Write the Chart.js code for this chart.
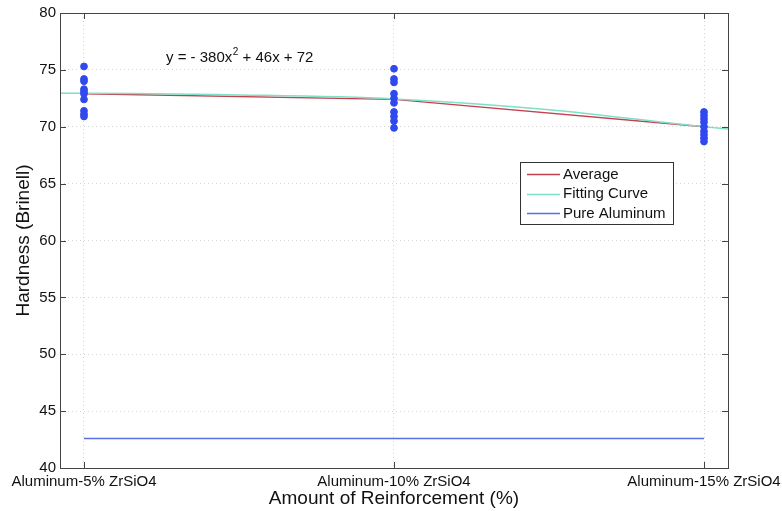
<!DOCTYPE html>
<html>
<head>
<meta charset="utf-8">
<script src="https://cdn.jsdelivr.net/npm/chart.js@4.4.1/dist/chart.umd.min.js"></script>
<style>
html,body{margin:0;padding:0;background:#fff;}
#wrap{width:782px;height:511px;}
</style>
</head>
<body>
<div id="wrap"><canvas id="c" width="782" height="511"></canvas></div>
<script>
// Category positions (% reinforcement) and labels
const categories = [5, 10, 15];
const categoryLabels = ['Aluminum-5% ZrSiO4', 'Aluminum-10% ZrSiO4', 'Aluminum-15% ZrSiO4'];
const yTicks = [40, 45, 50, 55, 60, 65, 70, 75, 80];

const samples5 = [75.3, 74.2, 74.0, 73.3, 73.1, 72.9, 72.4, 71.4, 71.1, 70.9];
const samples10 = [75.1, 74.2, 73.9, 72.9, 72.5, 72.1, 71.3, 70.9, 70.5, 69.9];
const samples15 = [71.3, 71.0, 70.7, 70.4, 70.0, 69.6, 69.3, 69.0, 68.7];

// Average line
const averageValues = [72.9, 72.4, 70.0];

// Fitting curve, read at several x positions
const fitX = [4.61, 5, 7.5, 10, 12.5, 15, 15.39];
const fitY = [72.95, 72.95, 72.8, 72.45, 71.5, 70.0, 69.8];

// Pure aluminum reference
const pureX = [5, 15];
const pureY = [42.6, 42.6];

const equationText = ['y = - 380x', '2', ' + 46x + 72'];

const pts = [];
[samples5, samples10, samples15].forEach((arr, i) => arr.forEach(v => pts.push({x: categories[i], y: v})));

const FONT = '"Liberation Sans", Arial, sans-serif';

const data = {
  datasets: [
    {label: 'Samples', type: 'scatter', data: pts, backgroundColor: '#3049ee', borderColor: '#3049ee',
     pointRadius: 3.4, pointHoverRadius: 3.4, showLine: false, legendHide: true, order: 0},
    {label: 'Average', data: categories.map((c, i) => ({x: c, y: averageValues[i]})),
     borderColor: '#c4414f', borderWidth: 1.3, pointRadius: 0, showLine: true, tension: 0, order: 2},
    {label: 'Fitting Curve', data: fitX.map((x, i) => ({x: x, y: fitY[i]})),
     borderColor: '#7fe0c8', borderWidth: 1.5, pointRadius: 0, showLine: true, cubicInterpolationMode: 'monotone', order: 1},
    {label: 'Pure Aluminum', data: pureX.map((x, i) => ({x: x, y: pureY[i]})),
     borderColor: '#5a6ee6', borderWidth: 1.5, pointRadius: 0, showLine: true, order: 3}
  ]
};

const framePlugin = {
  id: 'frame',
  afterDraw(chart) {
    const ctx = chart.ctx, a = chart.chartArea;
    const xs = chart.scales.x, ys = chart.scales.y;
    ctx.save();
    ctx.strokeStyle = '#444';
    ctx.lineWidth = 1;
    ctx.strokeRect(Math.round(a.left) + 0.5, Math.round(a.top) + 0.5, Math.round(a.right - a.left), Math.round(a.bottom - a.top));
    ctx.beginPath();
    const tl = 6;
    yTicks.forEach(v => {
      const y = Math.round(ys.getPixelForValue(v)) + 0.5;
      ctx.moveTo(a.left, y); ctx.lineTo(a.left + tl, y);
      ctx.moveTo(a.right, y); ctx.lineTo(a.right - tl, y);
    });
    categories.forEach(v => {
      const x = Math.round(xs.getPixelForValue(v)) + 0.5;
      ctx.moveTo(x, a.top); ctx.lineTo(x, a.top + tl);
      ctx.moveTo(x, a.bottom); ctx.lineTo(x, a.bottom - tl);
    });
    ctx.stroke();

    // Equation text
    ctx.fillStyle = '#111';
    ctx.font = '15px ' + FONT;
    ctx.textBaseline = 'alphabetic';
    let ex = 166, ey = 62;
    ctx.fillText(equationText[0], ex, ey);
    ex += ctx.measureText(equationText[0]).width;
    ctx.font = '10px ' + FONT;
    ctx.fillText(equationText[1], ex + 0.5, ey - 7);
    ex += ctx.measureText(equationText[1]).width + 0.5;
    ctx.font = '15px ' + FONT;
    ctx.fillText(equationText[2], ex, ey);

    // Legend
    const lx = 520, ly = 162, lw = 153, lh = 62;
    ctx.fillStyle = '#fff';
    ctx.fillRect(lx, ly, lw, lh);
    ctx.strokeStyle = '#333';
    ctx.strokeRect(lx + 0.5, ly + 0.5, lw, lh);
    const entries = chart.data.datasets.filter(d => !d.legendHide);
    ctx.font = '15px ' + FONT;
    ctx.textBaseline = 'middle';
    entries.forEach((d, i) => {
      const y = ly + 12 + i * 19.5;
      ctx.strokeStyle = d.borderColor;
      ctx.lineWidth = 1.5;
      ctx.beginPath();
      ctx.moveTo(lx + 7, Math.round(y) + 0.5);
      ctx.lineTo(lx + 40, Math.round(y) + 0.5);
      ctx.stroke();
      ctx.fillStyle = '#111';
      ctx.fillText(d.label, lx + 43, y + 0.5);
    });
    ctx.restore();
  }
};

new Chart(document.getElementById('c'), {
  type: 'scatter',
  data: data,
  plugins: [framePlugin],
  options: {
    responsive: false,
    animation: false,
    layout: {padding: {left: 0, right: 54, top: 13, bottom: 0}},
    plugins: {legend: {display: false}, tooltip: {enabled: false}},
    scales: {
      x: {
        type: 'linear', min: 4.613, max: 15.387,
        afterBuildTicks(s) { s.ticks = categories.map(v => ({value: v})); },
        afterFit(s) { s.height = 43; s.paddingLeft = 0; s.paddingRight = 0; },
        ticks: {
          callback(v) { const i = categories.indexOf(v); return i >= 0 ? categoryLabels[i] : ''; },
          color: '#111', font: {family: FONT, size: 15},
          padding: 5, maxRotation: 0, autoSkip: false
        },
        grid: {color: '#d4d4d4', drawTicks: false, lineWidth: 1},
        border: {display: false, dash: [1, 3]},
        title: {display: true, text: 'Amount of Reinforcement (%)', color: '#111',
                font: {family: FONT, size: 19}, padding: {top: 0, bottom: 1}}
      },
      y: {
        type: 'linear', min: 40, max: 80,
        afterBuildTicks(s) { s.ticks = yTicks.map(v => ({value: v})); },
        afterFit(s) { s.width = 60; s.paddingTop = 0; s.paddingBottom = 0; },
        ticks: {color: '#111', font: {family: FONT, size: 15}, padding: 4},
        grid: {color: '#d4d4d4', drawTicks: false, lineWidth: 1},
        border: {display: false, dash: [1, 3]},
        title: {display: true, text: 'Hardness (Brinell)', color: '#111',
                font: {family: FONT, size: 19}, padding: {top: 12, bottom: 0}}
      }
    }
  }
});
</script>
</body>
</html>
